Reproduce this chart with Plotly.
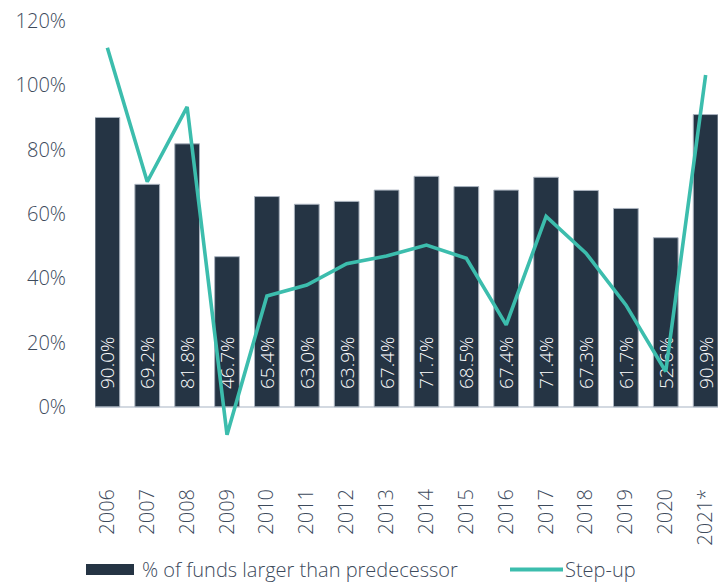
import plotly.graph_objects as go

years = ["2006", "2007", "2008", "2009", "2010", "2011", "2012", "2013",
         "2014", "2015", "2016", "2017", "2018", "2019", "2020", "2021*"]
pct_larger = [90.0, 69.2, 81.8, 46.7, 65.4, 63.0, 63.9, 67.4,
              71.7, 68.5, 67.4, 71.4, 67.3, 61.7, 52.6, 90.9]
step_up = [111.7, 70.0, 93.3, -8.7, 34.5, 37.9, 44.5, 46.9,
           50.3, 46.2, 25.5, 59.2, 47.8, 31.7, 11.0, 103.2]
y_ticks = [0, 20, 40, 60, 80, 100, 120]

BAR = "#253444"
TEAL = "#3cbdad"
TXT = "#3d4a5c"
FONT = "Open Sans"

W, H = 725, 583
L, R, T, B = 95, 7, 21, 99
pw, ph = W - L - R, H - T - B


def px(x):
    return (x - L) / pw


def py(y):
    return (H - B - y) / ph


fig = go.Figure()
fig.add_trace(go.Bar(
    x=years, y=[v / 100 for v in pct_larger],
    width=0.62,
    marker=dict(color=BAR, line=dict(color="#a9b2be", width=1)),
    text=["\u00a0\u00a0\u00a0" + f"{v:.1f}%" for v in pct_larger],
    textposition="inside", insidetextanchor="start", textangle=-90,
    constraintext="none",
    textfont=dict(family=FONT, size=19, color="white", weight=300),
    cliponaxis=False, showlegend=False,
))
fig.add_trace(go.Scatter(
    x=years, y=[v / 100 for v in step_up], mode="lines",
    line=dict(color=TEAL, width=3.6), showlegend=False,
))

# legend drawn by hand: wide bar swatch and a line swatch
fig.add_shape(type="rect", xref="paper", yref="paper",
              x0=px(86), x1=px(134), y0=py(575), y1=py(564),
              fillcolor=BAR, line=dict(width=0))
fig.add_annotation(xref="paper", yref="paper", x=px(140), y=py(569),
                   xanchor="left", yanchor="middle", showarrow=False,
                   text="% of funds larger than predecessor",
                   font=dict(family=FONT, size=20, color=TXT, weight=300))
fig.add_shape(type="line", xref="paper", yref="paper",
              x0=px(510), x1=px(563), y0=py(569.5), y1=py(569.5),
              line=dict(color=TEAL, width=4))
fig.add_annotation(xref="paper", yref="paper", x=px(563), y=py(569),
                   xanchor="left", yanchor="middle", showarrow=False,
                   text="Step-up",
                   font=dict(family=FONT, size=20, color=TXT, weight=300))

fig.update_layout(
    width=W, height=H,
    margin=dict(l=L, r=R, t=T, b=B, pad=0),
    paper_bgcolor="white", plot_bgcolor="white",
    font=dict(family=FONT, color=TXT, size=20),
    xaxis=dict(type="category", range=[-0.31, 15.31], tickangle=-90,
               showgrid=False, showline=False, ticks="",
               tickfont=dict(family=FONT, size=20, color=TXT, weight=300)),
    yaxis=dict(range=[-0.24, 1.2], tickvals=[t / 100 for t in y_ticks],
               ticktext=[f"{t}%" for t in y_ticks],
               showgrid=False, showline=False, ticks="",
               zeroline=True, zerolinecolor="#d3d9e1", zerolinewidth=1.5,
               ticklabelstandoff=28,
               tickfont=dict(family=FONT, size=20, color=TXT, weight=300)),
)

fig.write_html("out.html")
